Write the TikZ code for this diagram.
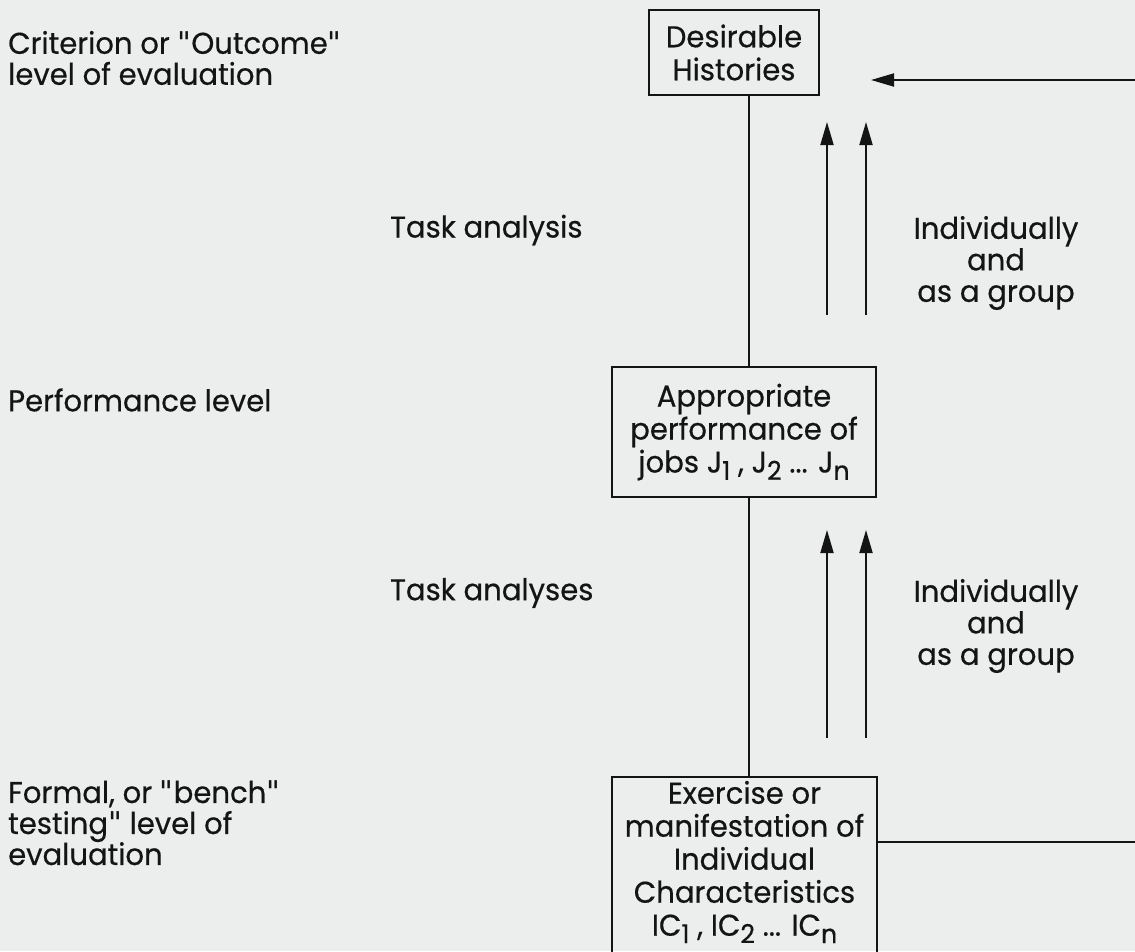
\documentclass[tikz,border=0pt]{standalone}
\usepackage{fontspec}
\setmainfont{Poppins}[FakeBold=0.5,FakeStretch=0.97]
\newfontfamily\qfont{DejaVu Sans}
\usetikzlibrary{arrows.meta}
\newcommand\lsub[1]{\raisebox{-0.45ex}{\fontsize{26}{26}\selectfont #1}}
\newcommand\dq{{\qfont\symbol{34}}}
\definecolor{paper}{RGB}{236,238,238}
\definecolor{ink}{RGB}{20,20,20}
\begin{document}
\begin{tikzpicture}[x=1pt,y=-1pt,
  txt/.style={font=\fontsize{30}{31.5}\selectfont, text=ink, inner sep=0pt, align=center},
  lefttxt/.style={font=\fontsize{30}{31}\selectfont, text=ink, inner sep=0pt, align=left, anchor=west},
  box/.style={draw=ink, line width=2pt, inner sep=0pt, text=ink, font=\fontsize{30}{33}\selectfont, align=center},
  ln/.style={draw=ink, line width=2pt},
  arr/.style={draw=ink, line width=1.9pt, -{Triangle[length=23pt,width=13pt]}}]
\fill[paper] (0,0) rectangle (1135,951);
\useasboundingbox (0,0) rectangle (1135,951);
\clip (0,0) rectangle (1135,951);
% boxes
\node[box, minimum width=170pt, minimum height=85pt] (hist) at (734,52.5) {Desirable\\Histories};
\node[box, minimum width=264pt, minimum height=130pt] (perf) at (744,432) {Appropriate\\performance of\\jobs J\lsub{1} , J\lsub{2} ... J\lsub{n}};
\node[box, minimum width=265pt, minimum height=200pt, anchor=north] (ic) at (744.5,776) {};
\node[txt, font=\fontsize{30}{33}\selectfont] (ictxt) at (744.5,862) {Exercise or\\manifestation of\\Individual\\Characteristics\\IC\lsub{1} , IC\lsub{2} ... IC\lsub{n}};
% spine
\coordinate (spine) at (749,0);
\draw[ln] (hist.south -| spine) -- (perf.north -| spine);
\draw[ln] (perf.south -| spine) -- (ic.north -| spine);
% double arrows
\coordinate (a1b) at (827,315); \coordinate (a1t) at (827,122);
\coordinate (a2b) at (866,315); \coordinate (a2t) at (866,122);
\coordinate (b1b) at (827,738); \coordinate (b1t) at (827,530);
\coordinate (b2b) at (866,738); \coordinate (b2t) at (866,530);
\draw[arr] (a1b) -- (a1t);
\draw[arr] (a2b) -- (a2t);
\draw[arr] (b1b) -- (b1t);
\draw[arr] (b2b) -- (b2t);
% feedback loop
\coordinate (fbl) at (0,842);
\coordinate (fbr) at (1145,842);
\coordinate (fbt) at (1145,80);
\coordinate (tip) at (871,80);
\draw[ln] (ic.east |- fbl) -- (fbr) -- (fbt);
\draw[arr] (fbt) -- (tip);
% left labels
\node[lefttxt] (crit) at (8,58) {Criterion or \dq Outcome\dq\\level of evaluation};
\node[lefttxt] (perfl) at (8,400) {Performance level};
\node[lefttxt] (formal) at (8,823) {Formal, or \dq bench\dq\\testing\dq\ level of\\evaluation};
% middle labels
\node[lefttxt] (ta1) at (390,230) {Task analysis};
\node[lefttxt] (ta2) at (390,593) {Task analyses};
% right labels
\node[txt] (ind1) at (996,263) {Individually\\and\\as a group};
\node[txt] (ind2) at (996,626) {Individually\\and\\as a group};
\end{tikzpicture}
\end{document}
